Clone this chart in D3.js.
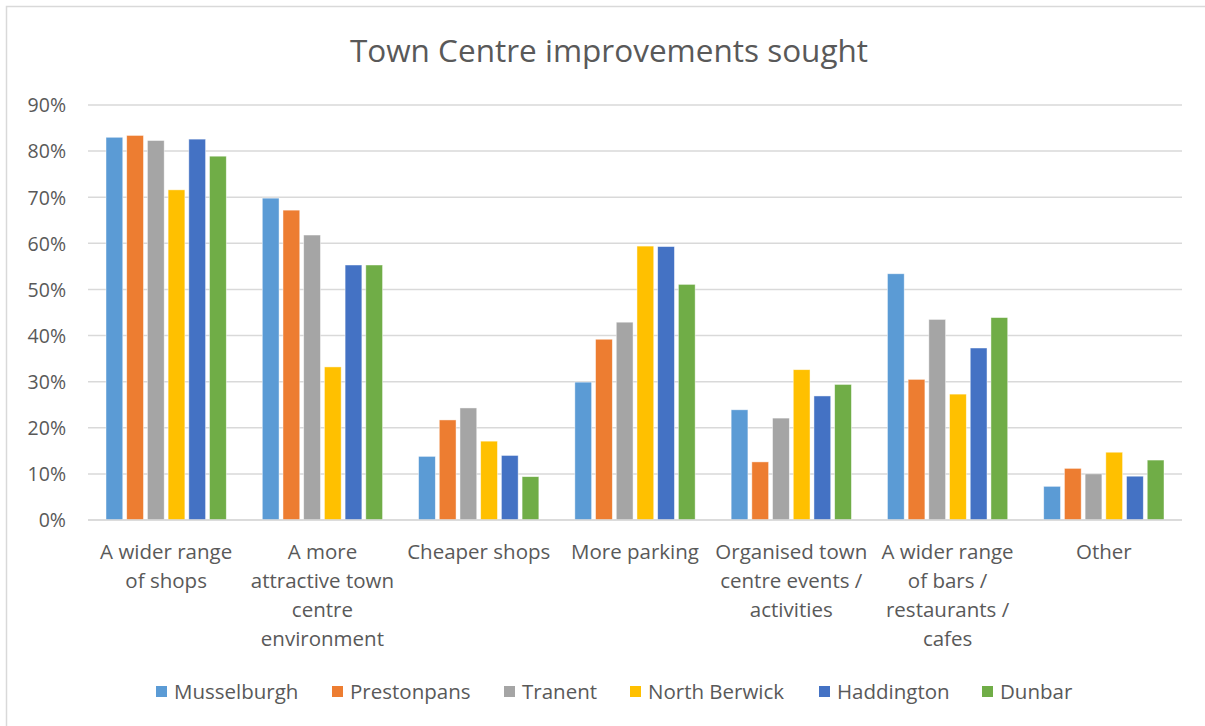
<!DOCTYPE html>
<html>
<head>
<meta charset="utf-8">
<script src="https://cdn.jsdelivr.net/npm/d3@7"></script>
<style>
  html, body { margin: 0; padding: 0; background: #fff; }
  svg { display: block; }
  text { font-family: "Open Sans", "Liberation Sans", sans-serif; fill: #595959; }
</style>
</head>
<body>
<svg id="chart" width="1205" height="726"></svg>
<script>
const categories = [
  "A wider range of shops",
  "A more attractive town centre environment",
  "Cheaper shops",
  "More parking",
  "Organised town centre events / activities",
  "A wider range of bars / restaurants / cafes",
  "Other"
];
const categoryLines = [
  ["A wider range", "of shops"],
  ["A more", "attractive town", "centre", "environment"],
  ["Cheaper shops"],
  ["More parking"],
  ["Organised town", "centre events /", "activities"],
  ["A wider range", "of bars /", "restaurants /", "cafes"],
  ["Other"]
];
const seriesNames = ["Musselburgh", "Prestonpans", "Tranent", "North Berwick", "Haddington", "Dunbar"];
const musselburgh  = [83.0, 69.8, 13.8, 29.9, 23.9, 53.4, 7.3];
const prestonpans  = [83.4, 67.2, 21.7, 39.2, 12.6, 30.5, 11.2];
const tranent      = [82.3, 61.8, 24.3, 42.9, 22.1, 43.5, 10.0];
const northBerwick = [71.6, 33.2, 17.1, 59.4, 32.6, 27.3, 14.7];
const haddington   = [82.6, 55.3, 14.0, 59.3, 26.9, 37.3, 9.5];
const dunbar       = [78.9, 55.3, 9.4, 51.1, 29.4, 43.9, 13.0];
const seriesValues = [musselburgh, prestonpans, tranent, northBerwick, haddington, dunbar];
const seriesColors = ["#5B9BD5", "#ED7D31", "#A5A5A5", "#FFC000", "#4472C4", "#70AD47"];
const yTicks = [0, 10, 20, 30, 40, 50, 60, 70, 80, 90];
const title = "Town Centre improvements sought";

const svg = d3.select("#chart");
const W = 1205, H = 726;
const plot = { left: 88, right: 1182, top: 105, bottom: 520 };

// outer border
svg.append("rect")
  .attr("x", 6.5).attr("y", 6.5)
  .attr("width", W + 10).attr("height", H + 10)
  .attr("fill", "#fff").attr("stroke", "#d9d9d9").attr("stroke-width", 1.5);

const x0 = d3.scaleBand().domain(categories).range([plot.left, plot.right]).paddingInner(0).paddingOuter(0);
const bw = x0.bandwidth();
const x1 = d3.scaleBand().domain(seriesNames).range([18, bw - 18]).paddingInner(0.19).paddingOuter(0);
const y = d3.scaleLinear().domain([0, 90]).range([plot.bottom, plot.top]);

// gridlines
svg.append("g").selectAll("line").data(yTicks).join("line")
  .attr("x1", plot.left).attr("x2", plot.right)
  .attr("y1", d => y(d)).attr("y2", d => y(d))
  .attr("stroke", "#d9d9d9").attr("stroke-width", 1.5);

// y axis labels
const yAxis = d3.axisLeft(y).tickValues(yTicks).tickFormat(d => d + "%").tickSize(0).tickPadding(0);
const gy = svg.append("g").attr("transform", `translate(66,0)`).call(yAxis);
gy.select(".domain").remove();
gy.selectAll("text").attr("font-size", 19.5).attr("fill", "#595959")
  .style("font-family", '"Open Sans", sans-serif').attr("dy", "0.35em");

// bars
const groups = svg.append("g").selectAll("g").data(categories).join("g")
  .attr("transform", d => `translate(${x0(d)},0)`);
groups.selectAll("rect")
  .data((c, ci) => seriesNames.map((s, si) => ({ s, si, v: seriesValues[si][ci] })))
  .join("rect")
  .attr("x", d => x1(d.s))
  .attr("width", x1.bandwidth())
  .attr("y", d => y(d.v))
  .attr("height", d => y(0) - y(d.v))
  .attr("fill", d => seriesColors[d.si])
  .attr("stroke", "#ffffff").attr("stroke-opacity", 0.6).attr("stroke-width", 0.75);

// baseline
svg.append("line").attr("x1", plot.left).attr("x2", plot.right)
  .attr("y1", y(0)).attr("y2", y(0)).attr("stroke", "#d9d9d9").attr("stroke-width", 1.5);

// category labels
categories.forEach((c, i) => {
  const t = svg.append("text").attr("text-anchor", "middle").attr("font-size", 20.5);
  categoryLines[i].forEach((ln, j) => {
    t.append("tspan").attr("x", x0(c) + bw / 2).attr("y", 559 + j * 29).text(ln);
  });
});

// title
svg.append("text").attr("x", 609).attr("y", 62).attr("text-anchor", "middle")
  .attr("font-size", 31.5).text(title);

// legend
const legendX = [156, 332, 504, 630, 819, 982];
const lg = svg.append("g").selectAll("g").data(seriesNames).join("g")
  .attr("transform", (d, i) => `translate(${legendX[i]},686)`);
lg.append("rect").attr("width", 11).attr("height", 11).attr("fill", (d, i) => seriesColors[i]);
lg.append("text").attr("x", 18).attr("y", 13).attr("font-size", 20.5).text(d => d);
</script>
</body>
</html>
